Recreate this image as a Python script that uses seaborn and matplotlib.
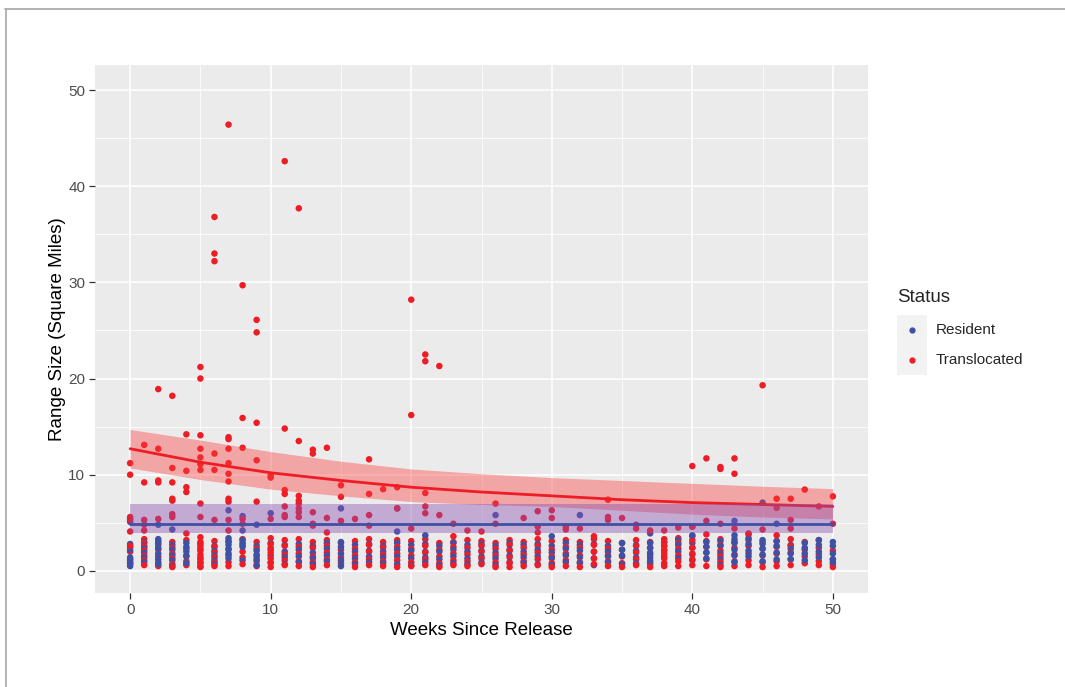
import matplotlib
matplotlib.use("Agg")
import matplotlib.pyplot as plt
import seaborn as sns
import pandas as pd
import numpy as np
from matplotlib.patches import Rectangle
from matplotlib.lines import Line2D

# ---------------- data ----------------
weeks = list(range(51))

# low cluster (0-3.5) per week
trans_low = [
    [2.0, 1.2, 0.7, 0.9, 2.6],
    [3.3, 2.9, 2.5, 2.1, 1.6, 1.1, 0.6],
    [3.1, 2.7, 2.2, 1.5, 0.9, 0.5],
    [3.0, 2.4, 1.8, 1.3, 0.7, 0.4],
    [3.2, 2.3, 1.6, 1.0, 0.6],
    [3.5, 3.0, 2.6, 2.1, 1.7, 1.2, 0.8, 0.4],
    [3.1, 2.5, 1.9, 1.4, 0.9, 0.5],
    [3.0, 2.2, 1.6, 0.9, 0.5],
    [3.3, 2.7, 2.0, 1.4, 0.7],
    [3.0, 2.3, 1.5, 1.0, 0.5],
    [3.4, 2.8, 2.4, 1.9, 1.3, 0.8, 0.4],
    [3.2, 2.6, 1.7, 1.1, 0.6],
    [3.3, 2.5, 1.8, 1.0, 0.5],
    [3.0, 2.4, 1.5, 0.9, 0.4],
    [3.2, 2.6, 1.9, 1.2, 0.6],
    [2.9, 2.2, 1.4, 0.8],
    [3.1, 2.3, 1.6, 0.9, 0.4],
    [3.3, 2.7, 2.0, 1.2, 0.6],
    [3.0, 2.4, 1.7, 1.0, 0.5],
    [3.2, 2.5, 1.8, 1.1, 0.4],
    [3.1, 2.3, 1.6, 0.9, 0.5],
    [3.3, 2.6, 1.9, 1.2, 0.6],
    [2.9, 2.2, 1.5, 0.8, 0.4],
    [3.0, 2.5, 1.8, 1.1, 0.6],
    [3.2, 2.4, 1.7, 1.0, 0.5],
    [3.1, 2.6, 2.0, 1.3, 0.7],
    [2.9, 2.3, 1.6, 0.9, 0.4],
    [3.2, 2.7, 2.1, 1.4, 0.8, 0.4],
    [3.0, 2.4, 1.7, 1.0, 0.5],
    [3.3, 2.6, 1.9, 1.2, 0.6],
    [3.1, 2.2, 1.5, 0.8, 0.4],
    [3.2, 2.5, 1.8, 1.1, 0.5],
    [3.0, 2.4, 1.6, 0.9, 0.4],
    [3.3, 2.7, 2.0, 1.3, 0.7],
    [3.1, 2.3, 1.6, 1.0, 0.5],
    [2.9, 2.2, 1.5, 0.8, 0.4],
    [3.2, 2.6, 1.9, 1.2, 0.6],
    [3.0, 2.4, 1.7, 1.1, 0.7, 0.4],
    [3.3, 3.0, 2.6, 2.2, 1.8, 1.3, 0.8, 0.5],
    [3.4, 2.9, 2.3, 1.6, 1.0, 0.5],
    [3.6, 3.2, 2.4, 1.8, 1.2, 0.6],
    [3.1, 2.5, 1.9, 1.2, 0.5],
    [3.3, 2.7, 2.1, 1.5, 0.9, 0.4],
    [3.0, 2.4, 1.7, 1.0, 0.5],
    [3.2, 2.6, 1.8, 1.1, 0.6],
    [3.0, 2.3, 1.6, 0.9, 0.4],
    [3.1, 2.5, 1.8, 1.0, 0.5],
    [3.3, 2.6, 1.9, 1.2, 0.6],
    [3.0, 2.2, 1.5, 0.8],
    [3.2, 2.4, 1.7, 1.0, 0.6],
    [2.1, 1.2, 0.7, 0.4],
]
res_low = [
    [2.8, 2.5, 2.2, 1.4, 1.1, 0.8, 0.5],
    [3.0, 2.6, 2.3, 1.9, 1.4, 0.9],
    [3.3, 2.9, 2.4, 1.8, 1.2, 0.7],
    [2.7, 2.2, 1.6, 1.1, 0.5],
    [2.9, 2.5, 2.0, 1.5, 0.8],
    [2.8, 2.3, 1.4, 0.9, 0.5],
    [2.6, 2.1, 1.6, 1.1, 0.7],
    [3.4, 3.1, 2.7, 2.3, 1.8, 1.3],
    [3.2, 2.9, 2.5, 1.1],
    [2.6, 2.1, 1.7, 1.2, 0.6],
    [2.9, 2.2, 1.6, 0.9],
    [2.7, 2.0, 1.4, 0.7],
    [2.8, 2.2, 1.5, 0.9],
    [2.6, 1.9, 1.3, 0.7],
    [2.9, 2.3, 1.6, 1.0],
    [3.0, 2.5, 1.8, 1.1, 0.5],
    [2.7, 2.0, 1.3, 0.7],
    [2.8, 2.1, 1.5, 0.9],
    [2.6, 2.0, 1.4, 0.8],
    [2.9, 2.2, 1.5, 0.7],
    [2.7, 2.1, 1.3, 0.6],
    [2.8, 2.0, 1.4, 0.9],
    [2.6, 2.0, 1.2, 0.6],
    [2.9, 2.2, 1.5, 0.8],
    [2.7, 2.0, 1.3, 0.7],
    [2.8, 2.1, 1.5, 0.9],
    [2.6, 1.9, 1.3, 0.6],
    [2.9, 2.2, 1.6, 0.9],
    [2.7, 2.0, 1.4, 0.8],
    [2.8, 2.2, 1.5, 0.7],
    [2.6, 1.9, 1.3, 0.6],
    [2.9, 2.3, 1.6, 0.9],
    [2.7, 2.1, 1.4, 0.8],
    [2.8, 2.0, 1.3, 0.6],
    [2.6, 2.0, 1.5, 0.9],
    [2.9, 2.2, 1.6, 0.7],
    [2.7, 2.1, 1.4, 0.8],
    [2.9, 2.4, 1.9, 1.4, 0.9],
    [3.0, 2.6, 2.1, 1.5],
    [3.2, 2.7, 2.0, 1.3],
    [2.9, 2.4, 1.7, 1.1],
    [3.0, 2.5, 1.9, 1.3],
    [3.1, 2.6, 1.8, 1.2, 0.6],
    [3.3, 2.9, 2.2, 1.6, 0.9],
    [3.4, 2.8, 2.1, 1.5],
    [3.2, 2.8, 2.3, 1.7, 1.0],
    [3.1, 2.6, 1.9, 1.2],
    [2.7, 2.3, 1.8, 1.2],
    [2.9, 2.4, 1.8, 1.1],
    [3.2, 2.7, 2.0, 1.4],
    [3.0, 2.6, 1.8, 1.2, 0.9],
]

# higher points (week, range)
trans_high_week = [0, 0, 0, 0, 0, 1, 1, 1, 1, 1, 2, 2, 2, 2, 2,
                   3, 3, 3, 3, 3, 3, 3, 4, 4, 4, 4, 4,
                   5, 5, 5, 5, 5, 5, 5, 5, 5, 6, 6, 6, 6, 6, 6,
                   7, 7, 7, 7, 7, 7, 7, 7, 7, 7, 7, 8, 8, 8, 8, 8,
                   9, 9, 9, 9, 9, 10, 10, 10, 11, 11, 11, 11, 11, 11, 11,
                   12, 12, 12, 12, 12, 12, 12, 12, 13, 13, 13, 13, 13,
                   14, 14, 14, 15, 15, 15, 16, 17, 17, 17, 17, 18, 19, 19,
                   20, 20, 20, 21, 21, 21, 21, 21, 22, 22, 23, 23, 24, 25,
                   26, 26, 28, 29, 29, 29, 30, 30, 31, 31, 32, 33, 34, 34, 34,
                   35, 36, 36, 37, 38, 39, 40, 40, 41, 41, 41, 42, 42, 42,
                   43, 43, 43, 44, 45, 45, 46, 46, 46, 47, 47, 47, 48, 49, 50, 50]
trans_high_val = [11.2, 10.0, 5.6, 5.3, 4.1, 13.1, 9.2, 5.3, 4.8, 4.2, 18.9, 12.7, 9.4, 9.2, 5.4,
                  18.2, 10.7, 9.2, 7.5, 7.3, 5.9, 5.6, 14.2, 10.4, 8.7, 8.2, 3.9,
                  21.2, 20.0, 14.1, 12.7, 11.8, 11.1, 10.5, 7.0, 5.6, 36.8, 33.0, 32.2, 12.2, 10.5, 5.3,
                  46.4, 13.9, 13.7, 12.7, 11.2, 10.1, 9.3, 7.5, 7.2, 5.3, 4.2, 29.7, 15.9, 12.8, 5.4, 4.9,
                  26.1, 24.8, 15.4, 11.5, 7.2, 9.9, 9.7, 5.4, 42.6, 14.8, 8.4, 8.0, 6.7, 5.8, 5.6,
                  37.7, 13.5, 7.8, 7.3, 7.0, 6.5, 6.1, 5.6, 12.6, 12.2, 6.1, 4.9, 4.7,
                  12.8, 5.5, 4.0, 8.9, 7.7, 5.2, 5.4, 11.6, 8.0, 5.8, 4.7, 8.5, 8.7, 6.5,
                  28.2, 16.2, 4.4, 22.5, 21.8, 8.1, 6.7, 6.0, 21.3, 5.8, 4.9, 3.6, 4.2, 4.1,
                  7.0, 4.9, 5.5, 6.2, 4.6, 4.0, 6.3, 5.5, 4.6, 4.3, 4.4, 3.6, 7.4, 5.6, 5.3,
                  5.5, 4.8, 4.4, 4.2, 4.2, 4.5, 10.9, 4.6, 11.7, 5.2, 3.8, 10.8, 10.6, 4.9,
                  11.7, 10.1, 4.4, 3.9, 19.3, 4.3, 7.5, 6.55, 3.7, 7.5, 5.3, 4.4, 8.45, 6.7, 7.75, 4.9]
res_high_week = [0, 0, 2, 3, 7, 8, 8, 9, 10, 15, 19, 19, 21, 26, 30, 32,
                 37, 40, 40, 43, 43, 44, 45, 46]
res_high_val = [5.4, 5.1, 4.8, 4.3, 6.3, 5.7, 4.2, 4.8, 6.0, 6.5, 6.5, 4.1, 3.7, 5.8, 3.6, 5.8,
                3.9, 4.6, 3.7, 5.2, 3.7, 3.8, 7.1, 4.9]

# fitted curves
fit_weeks = [0, 5, 10, 15, 20, 25, 30, 35, 40, 45, 50]
trans_fit = [12.7, 11.3, 10.2, 9.4, 8.7, 8.2, 7.8, 7.4, 7.1, 6.9, 6.7]
trans_upper = [14.7, 13.6, 12.4, 11.4, 10.6, 10.1, 9.7, 9.4, 9.1, 8.8, 8.55]
trans_lower = [10.7, 9.5, 8.5, 7.8, 7.2, 6.9, 6.7, 6.3, 5.9, 5.6, 5.4]
res_fit = [4.9] * 11
res_upper = [7.0] * 11
res_lower = [3.9] * 11

status_labels = ["Resident", "Translocated"]
x_ticks = [0, 10, 20, 30, 40, 50]
y_ticks = [0, 10, 20, 30, 40, 50]

# ---------------- build table (interleaved so colours mix like the original) ----------------
rows = []
for w, tv, rv in zip(weeks, trans_low, res_low):
    n = max(len(tv), len(rv))
    for i in range(n):
        if i < len(tv):
            rows.append((w, tv[i], "Translocated"))
        if i < len(rv):
            rows.append((w, rv[i], "Resident"))
for w, v in zip(res_high_week, res_high_val):
    rows.append((w, v, "Resident"))
for w, v in zip(trans_high_week, trans_high_val):
    rows.append((w, v, "Translocated"))
df = pd.DataFrame(rows, columns=["Weeks", "Range", "Status"])

RED = "#EE1C25"
BLUE = "#3F51A5"
palette = {"Resident": BLUE, "Translocated": RED}

# ---------------- plot ----------------
sns.set_theme(style="darkgrid")
plt.rcParams["font.family"] = ["Liberation Sans", "DejaVu Sans"]

fig = plt.figure(figsize=(10.65, 6.87), dpi=100)
fig.patch.set_facecolor("white")
ax = fig.add_axes([95 / 1065, 1 - 593 / 687, (868 - 95) / 1065, (593 - 65) / 687])
ax.set_facecolor("#EBEBEB")

sns.scatterplot(data=df, x="Weeks", y="Range", hue="Status", palette=palette, s=22,
                edgecolor="none", linewidth=0, ax=ax, legend=False, zorder=3)

# bands and fitted lines (translocated first, resident ribbon drawn over it)
ax.fill_between(fit_weeks, trans_lower, trans_upper, color="#FC3E3E", alpha=0.4,
                linewidth=0, zorder=4)
sns.lineplot(x=fit_weeks, y=trans_fit, color=RED, linewidth=2, ax=ax, zorder=5)
ax.fill_between(fit_weeks, res_lower, res_upper, color="#8C50B4", alpha=0.42,
                linewidth=0, zorder=6)
sns.lineplot(x=fit_weeks, y=res_fit, color=BLUE, linewidth=2, ax=ax, zorder=7)

ax.set_xlim(-2.5, 52.5)
ax.set_ylim(-2.3, 52.6)
ax.set_xticks(x_ticks)
ax.set_yticks(y_ticks)
ax.set_xticks([5, 15, 25, 35, 45], minor=True)
ax.set_yticks([5, 15, 25, 35, 45], minor=True)
ax.grid(which="major", color="white", linewidth=1.1)
ax.grid(which="minor", color="white", linewidth=0.55)
for s in ax.spines.values():
    s.set_visible(False)
ax.tick_params(axis="both", which="major", length=4, width=0.9, color="#333333",
               labelcolor="#4D4D4D", labelsize=11, pad=3, bottom=True, left=True)
ax.tick_params(axis="both", which="minor", length=0)
ax.set_xlabel("Weeks Since Release", fontsize=13.5, color="black", labelpad=4)
ax.set_ylabel("Range Size (Square Miles)", fontsize=13.5, color="black", labelpad=2)

# legend (ggplot style)
W, H = 1065, 687
def fx(px):
    return px / W
def fy(py):
    return 1 - py / H
fig.text(fx(897), fy(297), "Status", fontsize=13.5, va="center", ha="left")
fig.add_artist(Rectangle((fx(897), fy(375)), fx(30), 60 / H, transform=fig.transFigure,
                         facecolor="#F2F2F2", edgecolor="none"))
for lab, py in zip(status_labels, [330, 360]):
    fig.add_artist(Line2D([fx(912)], [fy(py)], marker="o", markersize=3.5, linestyle="none",
                          color=palette[lab], transform=fig.transFigure))
    fig.text(fx(936), fy(py), lab, fontsize=11, va="center", ha="left")

# screenshot border
fig.add_artist(Line2D([fx(5), fx(1065)], [fy(8.5), fy(8.5)], color="#A6A6A6", linewidth=1.2,
                      transform=fig.transFigure))
fig.add_artist(Line2D([fx(5.5), fx(5.5)], [fy(8.5), 0], color="#A6A6A6", linewidth=1.2,
                      transform=fig.transFigure))

fig.savefig("out.png", dpi=100)
